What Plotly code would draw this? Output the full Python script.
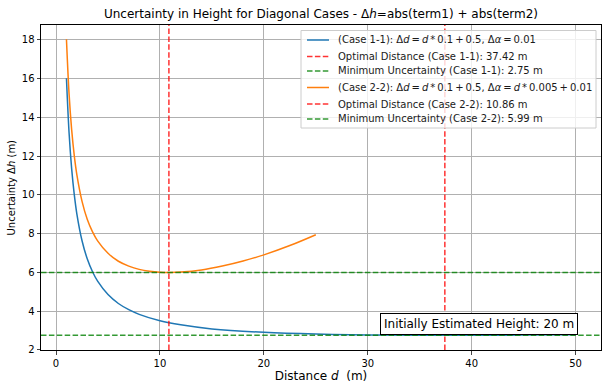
import plotly.graph_objects as go

# Case 1-1 curve
d_case1 = [1, 1.25, 1.5, 1.75, 2, 2.5, 3, 3.5, 4, 5, 6, 7, 8, 10, 12, 15, 20, 25, 30, 37.5, 45, 50]
h_case1 = [16.01, 13.21, 11.35, 10.02, 9.02, 7.63, 6.70, 6.04, 5.54, 4.85, 4.39, 4.07, 3.83,
           3.50, 3.29, 3.08, 2.90, 2.81, 2.77, 2.75, 2.76, 2.78]

# Case 2-2 curve
d_case2 = [1, 1.25, 1.5, 1.75, 2, 2.5, 3, 3.5, 4, 5, 6, 7, 8, 9, 10, 11, 12, 14, 16, 18, 20, 22.5, 25]
h_case2 = [18.02, 15.22, 13.36, 12.03, 11.04, 9.66, 8.74, 8.10, 7.62, 6.98, 6.57, 6.32, 6.15,
           6.05, 6.00, 5.99, 6.01, 6.12, 6.32, 6.58, 6.90, 7.38, 7.94]

opt_dist = [37.42, 10.86]
min_unc = [2.75, 5.99]
case_names = ["Case 1-1", "Case 2-2"]
T = "\u2009"  # thin space, as in mathtext
case_labels = [
    f"(Case 1-1): Δ<i>d</i>{T}={T}<i>d</i>{T}*{T}0.1{T}+{T}0.5, Δ<i>α</i>{T}={T}0.01",
    f"(Case 2-2): Δ<i>d</i>{T}={T}<i>d</i>{T}*{T}0.1{T}+{T}0.5, Δ<i>α</i>{T}={T}<i>d</i>{T}*{T}0.005{T}+{T}0.01",
]
x_ticks = [0, 10, 20, 30, 40, 50]
y_ticks = [2, 4, 6, 8, 10, 12, 14, 16, 18]

RED = "rgba(255,0,0,0.8)"
GREEN = "rgba(0,128,0,0.8)"
DASH = "5.5px,2.4px"
colors = ["#1f77b4", "#ff7f0e"]

W, H = 610, 392
ML, MR, MT, MB = 41, 9, 25, 42
PW, PH = W - ML - MR, H - MT - MB


def du(px):
    return (px - ML) / PW


def dv(py):
    return (H - MB - py) / PH


fig = go.Figure()
curves = [(d_case1, h_case1), (d_case2, h_case2)]
legend_items = []
for i in range(2):
    xs, ys = curves[i]
    fig.add_trace(go.Scatter(x=xs, y=ys, mode="lines", line=dict(color=colors[i], width=1.5, shape="spline"),
                             name=case_labels[i], showlegend=False, hoverinfo="skip"))
    fig.add_shape(type="line", xref="x", yref="y domain", x0=opt_dist[i], x1=opt_dist[i], y0=0, y1=1,
                  line=dict(color=RED, width=1.5, dash=DASH))
    fig.add_shape(type="line", xref="x domain", yref="y", x0=0, x1=1, y0=min_unc[i], y1=min_unc[i],
                  line=dict(color=GREEN, width=1.5, dash=DASH))
    legend_items.append((case_labels[i], colors[i], "solid"))
    legend_items.append((f"Optimal Distance ({case_names[i]}): {opt_dist[i]:.2f} m", RED, DASH))
    legend_items.append((f"Minimum Uncertainty ({case_names[i]}): {min_unc[i]:.2f} m", GREEN, DASH))

# legend box (matplotlib-like)
fig.add_shape(type="rect", xref="x domain", yref="y domain", x0=du(301), x1=du(596), y0=dv(128), y1=dv(30.5),
              line=dict(color="#cccccc", width=1), fillcolor="rgba(255,255,255,0.8)", layer="above")
row_y = [40, 56.5, 71, 87.5, 104, 119]
for (label, col, dash), ry in zip(legend_items, row_y):
    fig.add_shape(type="line", xref="x domain", yref="y domain", x0=du(307), x1=du(329), y0=dv(ry), y1=dv(ry),
                  line=dict(color=col, width=1.5, dash=dash), layer="above")
    fig.add_annotation(text=label, xref="x domain", yref="y domain", x=du(336), y=dv(ry),
                       xanchor="left", yanchor="middle", showarrow=False,
                       font=dict(size=10, color="#1a1a1a"))

fig.add_annotation(text="Initially Estimated Height: 20 m", xref="x domain", yref="y domain",
                   x=0.959, y=0.046, xanchor="right", yanchor="bottom", showarrow=False,
                   font=dict(size=12, color="black"), bgcolor="white", bordercolor="black",
                   borderwidth=1, borderpad=3)

fig.add_annotation(text="Uncertainty Δ<i>h</i> (m)", xref="paper", yref="paper", x=du(11), y=0.5,
                   xanchor="center", yanchor="middle", textangle=-90, showarrow=False,
                   font=dict(size=10, color="black"))

fig.update_layout(
    width=W, height=H,
    margin=dict(l=ML, r=MR, t=MT, b=MB),
    paper_bgcolor="white", plot_bgcolor="white",
    font=dict(family="DejaVu Sans", size=10, color="black"),
    title=dict(text="Uncertainty in Height for Diagonal Cases - Δ<i>h</i>=abs(term1) + abs(term2)",
               x=0.5, xanchor="center", xref="paper", y=1 - 14 / H, yanchor="middle", font=dict(size=12)),
    showlegend=False,
    hovermode=False,
)
fig.update_xaxes(range=[-1.45, 52.45], tickvals=x_ticks, showgrid=True, gridcolor="#b0b0b0", gridwidth=0.8,
                 showline=True, linecolor="black", linewidth=1, mirror=True, ticks="outside", ticklen=3.5,
                 zeroline=False, title=dict(text="Distance <i>d</i>  (m)", standoff=4))
fig.update_yaxes(range=[1.99, 18.76], tickvals=y_ticks, showgrid=True, gridcolor="#b0b0b0", gridwidth=0.8,
                 showline=True, linecolor="black", linewidth=1, mirror=True, ticks="outside", ticklen=3.5,
                 zeroline=False)

fig.write_html("out.html", config={"displayModeBar": False},
               post_script="document.body.style.margin='0px';")
